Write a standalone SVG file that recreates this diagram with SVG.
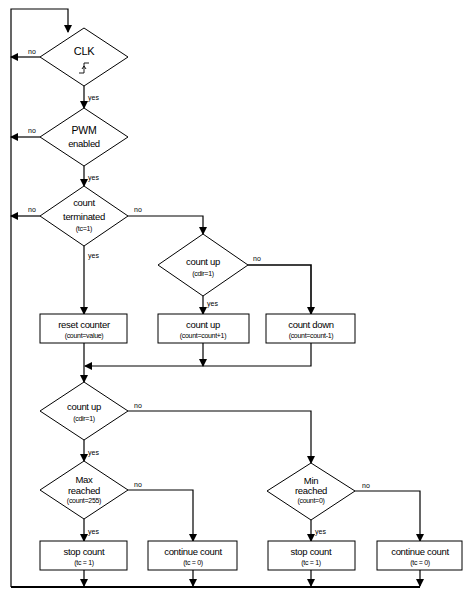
<svg xmlns="http://www.w3.org/2000/svg" width="468" height="603" viewBox="0 0 468 603">
<defs>
<marker id="ah" markerWidth="8" markerHeight="8" refX="7" refY="4" orient="auto" markerUnits="userSpaceOnUse">
<path d="M0,0 L8,4 L0,8 Z" fill="#000"/>
</marker>
<style>
.n{fill:#fff;stroke:#000;stroke-width:1}
.c{fill:none;stroke:#000;stroke-width:1.2}
.t{font-family:"Liberation Sans",Arial,sans-serif;font-size:9.5px;text-anchor:middle;fill:#000;letter-spacing:-0.3px}
.s{font-family:"Liberation Sans",Arial,sans-serif;font-size:7px;text-anchor:middle;fill:#000;letter-spacing:-0.3px}
.l{font-family:"Liberation Sans",Arial,sans-serif;font-size:7px;fill:#000}
</style>
</defs>
<rect width="468" height="603" fill="#fff"/>
<g id="connectors">
<path class="c" d="M11,587 V9 H68 V32" marker-end="url(#ah)"/>
<path class="c" d="M11,587 H420" style="stroke-width:2.2"/>
<path class="c" d="M40,57 H11" marker-end="url(#ah)"/>
<path class="c" d="M84,86 V108" marker-end="url(#ah)"/>
<path class="c" d="M40,137 H11" marker-end="url(#ah)"/>
<path class="c" d="M84,166 V186" marker-end="url(#ah)"/>
<path class="c" d="M40,216 H11" marker-end="url(#ah)"/>
<path class="c" d="M128,216 H203 V234" marker-end="url(#ah)"/>
<path class="c" d="M84,246 V314" marker-end="url(#ah)"/>
<path class="c" d="M248,265 H311 V314" marker-end="url(#ah)" style="stroke-width:1.6"/>
<path class="c" d="M203,296 V314" marker-end="url(#ah)"/>
<path class="c" d="M84,343 V382" marker-end="url(#ah)"/>
<path class="c" d="M203,343 V366" marker-end="url(#ah)"/>
<path class="c" d="M311,343 V366 H85" marker-end="url(#ah)"/>
<path class="c" d="M128,411 H311 V463" marker-end="url(#ah)"/>
<path class="c" d="M84,440 V461" marker-end="url(#ah)"/>
<path class="c" d="M128,490 H193 V541" marker-end="url(#ah)"/>
<path class="c" d="M84,519 V541" marker-end="url(#ah)"/>
<path class="c" d="M355,491 H420 V541" marker-end="url(#ah)"/>
<path class="c" d="M311,520 V541" marker-end="url(#ah)"/>
<path class="c" d="M84,570 V586" marker-end="url(#ah)"/>
<path class="c" d="M193,570 V586" marker-end="url(#ah)"/>
<path class="c" d="M311,570 V586" marker-end="url(#ah)"/>
<path class="c" d="M420,570 V586" marker-end="url(#ah)"/>
<text class="l" x="28" y="54">no</text>
<text class="l" x="88" y="100">yes</text>
<text class="l" x="28" y="133">no</text>
<text class="l" x="88" y="180">yes</text>
<text class="l" x="28" y="212">no</text>
<text class="l" x="134" y="212">no</text>
<text class="l" x="88" y="258">yes</text>
<text class="l" x="253" y="261">no</text>
<text class="l" x="207" y="306">yes</text>
<text class="l" x="134" y="408">no</text>
<text class="l" x="88" y="455">yes</text>
<text class="l" x="134" y="487">no</text>
<text class="l" x="88" y="534">yes</text>
<text class="l" x="362" y="488">no</text>
<text class="l" x="315" y="534">yes</text>
</g>
<g id="clk">
<polygon class="n" points="84,28 128,57 84,86 40,57"/>
<text class="t" x="84" y="55" style="font-size:11px">CLK</text>
<path d="M79,73 H84 V63 H89 M82,69 L84,66 L86,69" fill="none" stroke="#000" stroke-width="0.9"/>
</g>
<g id="pwm">
<polygon class="n" points="84,108 128,137 84,166 40,137"/>
<text class="t" x="84" y="134" style="font-size:10.5px">PWM</text>
<text class="t" x="84" y="147">enabled</text>
</g>
<g id="count-terminated">
<polygon class="n" points="84,186 128,216 84,246 40,216"/>
<text class="t" x="84" y="206">count</text>
<text class="t" x="84" y="220">terminated</text>
<text class="s" x="84" y="231">(tc=1)</text>
</g>
<g id="count-up-1">
<polygon class="n" points="203,234 248,265 203,296 158,265"/>
<text class="t" x="203" y="265">count up</text>
<text class="s" x="203" y="276">(cdir=1)</text>
</g>
<g id="reset-counter">
<rect class="n" x="40" y="314" width="87" height="29"/>
<text class="t" x="84" y="328">reset counter</text>
<text class="s" x="84" y="338">(count=value)</text>
</g>
<g id="count-up-box">
<rect class="n" x="158" y="314" width="91" height="29"/>
<text class="t" x="203" y="328">count up</text>
<text class="s" x="203" y="338">(count=count+1)</text>
</g>
<g id="count-down">
<rect class="n" x="266" y="314" width="89" height="29"/>
<text class="t" x="311" y="328">count down</text>
<text class="s" x="311" y="338">(count=count-1)</text>
</g>
<g id="count-up-2">
<polygon class="n" points="84,382 128,411 84,440 40,411"/>
<text class="t" x="84" y="410">count up</text>
<text class="s" x="84" y="421">(cdir=1)</text>
</g>
<g id="max-reached">
<polygon class="n" points="84,461 128,490 84,519 40,490"/>
<text class="t" x="84" y="483">Max</text>
<text class="t" x="84" y="494">reached</text>
<text class="s" x="84" y="503">(count=255)</text>
</g>
<g id="min-reached">
<polygon class="n" points="311,463 355,491 311,520 267,491"/>
<text class="t" x="311" y="484">Min</text>
<text class="t" x="311" y="494">reached</text>
<text class="s" x="311" y="503">(count=0)</text>
</g>
<g id="stop-count-1">
<rect class="n" x="40" y="541" width="87" height="29"/>
<text class="t" x="84" y="555">stop count</text>
<text class="s" x="84" y="565">(tc = 1)</text>
</g>
<g id="continue-count-1">
<rect class="n" x="148" y="541" width="89" height="29"/>
<text class="t" x="193" y="555">continue count</text>
<text class="s" x="193" y="565">(tc = 0)</text>
</g>
<g id="stop-count-2">
<rect class="n" x="268" y="541" width="87" height="29"/>
<text class="t" x="311" y="555">stop count</text>
<text class="s" x="311" y="565">(tc = 1)</text>
</g>
<g id="continue-count-2">
<rect class="n" x="377" y="541" width="85" height="29"/>
<text class="t" x="420" y="555">continue count</text>
<text class="s" x="420" y="565">(tc = 0)</text>
</g>
</svg>
